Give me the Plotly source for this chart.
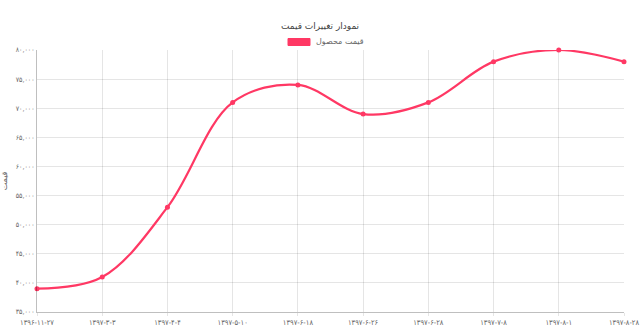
import plotly.graph_objects as go

dates = ["۱۳۹۶-۱۱-۲۷", "۱۳۹۷-۳-۳", "۱۳۹۷-۴-۴", "۱۳۹۷-۵-۱۰", "۱۳۹۷-۶-۱۸",
         "۱۳۹۷-۶-۲۶", "۱۳۹۷-۶-۲۸", "۱۳۹۷-۷-۸", "۱۳۹۷-۸-۱", "۱۳۹۷-۸-۲۸"]
prices = [39000, 41000, 53000, 71000, 74000, 69000, 71000, 78000, 80000, 78000]
y_ticks = [35000, 40000, 45000, 50000, 55000, 60000, 65000, 70000, 75000, 80000]

title_text = "نمودار تغییرات قیمت"
legend_text = "قیمت محصول"
y_title = "قیمت"

FA = str.maketrans("0123456789", "۰۱۲۳۴۵۶۷۸۹")
def fa_num(v):
    return f"{v:,}".translate(FA)

COLOR = "#ff3864"
FONT = "DejaVu Sans, Noto Sans, sans-serif"
TICKFONT = "DejaVu Sans Condensed, DejaVu Sans, sans-serif"
W, H = 640, 327
ML, MR, MT, MB = 37, 16, 50, 15
PW, PH = W - ML - MR, H - MT - MB

def px_x(px):
    return (px - ML) / PW

def px_y(py):
    return (H - MB - py) / PH

fig = go.Figure()
fig.add_trace(go.Scatter(
    x=dates, y=prices, mode="lines+markers",
    line=dict(color=COLOR, width=2.2, shape="spline", smoothing=1.0),
    marker=dict(color=COLOR, size=5),
    cliponaxis=False, showlegend=False, name=legend_text,
))

fig.update_layout(
    width=W, height=H,
    margin=dict(l=ML, r=MR, t=MT, b=MB),
    paper_bgcolor="white", plot_bgcolor="white",
    font=dict(family=FONT, size=8, color="#666"),
    title=dict(text=title_text, x=0.5, xanchor="center", y=1 - 26 / H, yanchor="middle",
               font=dict(size=9, color="#444", family=FONT)),
    xaxis=dict(type="category", range=[0, len(dates) - 1], showgrid=True, automargin=False,
               gridcolor="rgba(0,0,0,0.1)", showline=True, linecolor="rgba(0,0,0,0.25)",
               ticks="outside", ticklen=3, tickcolor="rgba(0,0,0,0.1)",
               tickfont=dict(size=7.5, color="#666", family=TICKFONT), zeroline=False),
    yaxis=dict(range=[35000, 80000], tickvals=y_ticks, ticktext=[fa_num(v) for v in y_ticks],
               showgrid=True, gridcolor="rgba(0,0,0,0.1)", showline=True, automargin=False,
               linecolor="rgba(0,0,0,0.25)", zeroline=False, ticks="",
               tickfont=dict(size=7, color="#666", family=TICKFONT),
               title=dict(text=y_title, font=dict(size=8, color="#666"), standoff=6)),
)

fig.add_shape(type="rect", xref="paper", yref="paper",
              x0=px_x(288), x1=px_x(310), y0=px_y(45.5), y1=px_y(38.5),
              fillcolor=COLOR, line=dict(color=COLOR, width=1))
fig.add_annotation(text=legend_text, xref="paper", yref="paper",
                   x=px_x(314), y=px_y(42), xanchor="left", yanchor="middle",
                   showarrow=False, font=dict(size=8, color="#666", family=FONT))

fig.write_html("out.html")
